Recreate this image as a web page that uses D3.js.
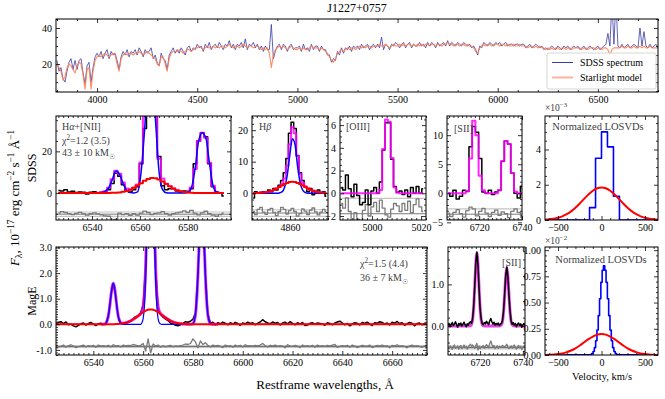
<!DOCTYPE html>
<html><head><meta charset="utf-8">
<script src="https://cdn.jsdelivr.net/npm/d3@7"></script>
<style>
body{margin:0;background:#fff;}
text{font-family:"Liberation Serif","DejaVu Serif",serif;}
</style></head><body>
<script>
// ---------- top: full spectrum (10 A grid from 3800) ----------
var topStart = 3800, topStep = 10;
var starlight = [
19.5,18,16,11,13,18,20,19,17,15, 19,21,20,14,6,17,18,6,16,22,
24,25,24,25,26,25,24,25,26,25, 20,16,23,25,26,25,26,26,25,26,
26,27,26,25,26,27,26,25,24,23, 20,19,24,24,20,16,23,26,27,27,
27,28,27,26,27,28,28,27,28,29, 29,30,29,28,29,30,29,29,30,29,
30,29,30,30,29,30,31,30,29,30, 30,29,30,31,30,29,30,30,29,30,
30,29,28,29,28,29,26,18,25,28, 29,30,29,30,29,28,29,30,29,28,
28,29,28,29,28,28,29,30,29,29, 29,28,29,28,27,26,24,22,21,23,
26,27,28,27,28,29,28,29,29,28, 29,30,29,30,29,30,30,29,30,30,
30,31,30,30,31,30,29,30,31,30, 30,31,30,31,30,31,31,30,31,30,
31,30,31,30,31,31,30,31,31,30, 31,31,30,31,31,32,31,31,30,31,
31,30,31,31,30,31,30,30,29,27, 26,29,30,31,30,31,31,30,31,31,
31,30,31,31,30,31,30,30,31,30, 30,31,30,30,30,29,30,30,29,30,
29,30,29,29,28,29,28,29,28,29, 29,28,29,29,28,29,29,28,29,29,
29,29,28,29,29,28,29,29,29,28, 29,29,28,29,29,28,25,28,29,29,
29,29,30,29,29,30,29,29,30,29, 29,30,29,30,29,29,30,29,29,29,29];
var sdss = [
22,16,18,12,10,16,21,23,17,22, 17,22,23,15,9,19,21,10,18,24,
26,24,27,23,26,28,23,27,25,26, 22,17,24,27,25,28,24,27,26,28,
25,29,27,24,28,26,27,29,23,25, 21,19,26,23,22,17,25,27,29,26,
28,26,29,27,25,29,30,27,29,28, 31,29,30,27,31,29,32,28,30,31,
29,32,30,28,31,30,33,29,31,28, 31,30,32,29,34,28,31,30,32,29,
31,28,30,27,30,28,28,42,23,27, 30,31,28,31,30,27,30,31,28,29,
29,30,27,31,28,29,27,31,28,30, 30,27,30,28,28,25,25,21,23,22,
27,25,29,26,29,28,30,27,30,29, 30,28,31,29,30,31,28,30,31,29,
31,29,35,28,31,30,28,31,30,32, 31,29,31,32,29,31,32,29,31,30,
30,32,30,31,29,32,30,32,31,29, 32,30,31,32,30,33,30,32,31,30,
32,31,30,32,31,30,31,29,30,28, 25,30,29,32,31,30,32,31,30,32,
31,32,30,31,32,30,31,31,30,31, 31,30,31,31,29,30,31,29,30,31,
30,29,30,28,29,28,29,30,29,28, 30,29,28,30,29,30,28,29,30,29,
30,28,29,30,28,29,30,29,28,29, 30,28,29,30,31,37,30,55,31,56,
30,29,31,29,30,31,29,30,31,30, 29,40,30,38,30,29,31,29,30,31,29];
var topXTicks = ["4000","4500","5000","5500","6000","6500"];
var topYTicks = ["20","40"];

// ---------- SDSS Halpha+[NII] (grid 6526 + 1.5 i) ----------
var m1Start = 6526, m1Step = 1.5;
var m1Data = [1.2,1.0,1.5,0.5,0.8,0.2,0.5,0.3,-0.5,0.4,0.6,0.0,0.3,0.5,1.5,4.5,9.5,8.0,4.0,1.0,
  0.5,1.5,3.0,14,31,60,70,45,17.5,3.5,1.5,2.0,2.0,1.0,0.5,1.0,0.8,2.0,14,25,29,27,14,3.0,0.5,0.0,-1.5];
var m1Total = [0,0,0,0,0,0,0,0,0,0,0,0.05,0.2,0.81,2.52,6.56,10.63,9.27,5.03,2.16,1.8,2.5,4.1,14.7,36.9,64.7,
  67.2,42.1,16.5,7.0,4.4,3.2,2.2,1.36,0.8,0.43,0.42,2.6,11.54,25,29,26.5,14.5,3.5,0.5,0,0];
var m1Narrow = [0,0,0,0,0,0,0,0,0,0,0,0.05,0.2,0.8,2.5,6.5,10.5,9,4.5,1.2,0.2,0,0.5,10,31,58,60,35,10,1.5,0.1,
  0,0,0,0,0,0.2,2.5,11.5,25,29,26.5,14.5,3.5,0.5,0,0];
var m1Broad = [0,0,0,0,0,0,0,0,0,0,0,0,0,0.01,0.02,0.06,0.13,0.27,0.53,0.96,1.6,2.5,3.6,4.7,5.9,6.7,7.2,7.1,6.5,
  5.5,4.3,3.2,2.2,1.36,0.8,0.43,0.22,0.1,0.04,0,0,0,0,0,0,0,0];
var m1Resid = [0.5,1.2,0.8,0.3,-0.2,0.4,0.9,0.3,-0.5,0.2,0.6,0.1,-0.3,-0.8,-1.0,-3.0,-2.5,0.5,-0.2,0.3,
  -0.6,0.2,-0.5,0.5,1.5,0.8,-0.2,0.4,0.6,1.2,0.3,-0.4,0.2,0.6,1.0,1.6,0.9,1.8,0.5,-0.3,0.6,1.4,0.2,-0.5,-1.0,-0.2,0.5];

// ---------- SDSS Hbeta (grid 4844.5 + 1.1 i) ----------
var m2Start = 4844.5, m2Step = 1.1;
var m2Data = [-1.5,0.5,0,0.3,0.5,0,1.0,0.5,1.5,1.0,2.5,4.0,6.5,11,19,22.5,20.5,12,6.5,4.0,2.0,0.5,1.5,-0.5,0.5,1.0,0,0.5,-1.0];
var m2Narrow = [0,0,0,0,0,0,0,0,0,0,0.1,0.4,1.8,5.5,12,17.3,15.5,8.5,3.2,0.9,0.2,0,0,0,0,0,0,0,0];
var m2Broad = [0.015,0.03,0.06,0.11,0.19,0.32,0.50,0.76,1.10,1.50,1.97,2.43,2.89,3.28,3.52,3.6,3.52,3.28,2.89,
  2.43,1.97,1.50,1.10,0.76,0.50,0.32,0.19,0.11,0.06];
var m2Total = [0.02,0.03,0.06,0.11,0.19,0.32,0.5,0.76,1.1,1.5,2.07,2.83,4.69,8.78,15.5,20.9,19.0,11.8,6.1,3.3,
  2.2,1.5,1.1,0.76,0.5,0.32,0.19,0.11,0.06];
var m2Resid = [0.5,-0.5,1.2,1.8,0.3,-0.4,1.0,1.5,0.2,-0.8,0.5,1.8,1.2,-0.3,0.8,1.5,0.5,-1.0,-0.2,1.3,0.6,-0.5,0.9,1.6,0.4,-0.6,0.3,1.2,0.5];

// ---------- SDSS [OIII] (grid 4987.5 + 1.15 i) ----------
var m3Start = 4987.5, m3Step = 1.15;
var m3Data = [0.5,0.3,1.6,0.4,-0.3,0.8,-0.2,-1.0,-0.8,0.3,-1.0,0.2,0.5,0.0,1.0,3.8,6.2,6.2,3.0,0.6,0.1,0.2,-0.1,0.3,-0.3,0.5,0.0,0.6,0.0,0.4];
var m3Total = [0,0,0,0,0,0,0,0,0,0,0,0,0,0,0.3,3.9,6.5,6.3,3.1,0.5,0.05,0,0,0,0,0,0,0,0,0];
var m3Resid = [0.9,0.5,1.4,0.2,-0.6,0.1,-0.5,-0.9,0.3,0.8,-0.2,0.6,1.0,0.2,1.2,0.5,-0.1,-0.3,0.4,0.9,0.7,0.2,0.9,0.3,1.1,0.1,0.8,1.3,0.6,0.2];

// ---------- SDSS [SII] (grid 6705.5 + 1.5 i) ----------
var m4Start = 6705.5, m4Step = 1.5;
var m4Data = [0,-0.5,0.5,-1.0,-0.5,0.5,0.3,8,11.5,10.5,6,0.2,0,0.5,-0.2,0.2,0.5,5.5,9,8.5,3.5,0,-0.8,1.2];
var m4Total = [0,0,0,0,0,0,0.4,6,12.5,10,3,0.5,0,0,0,0,0.5,5.5,9,8.5,3.5,0.3,0,0];
var m4Resid = [0.2,-0.4,0.3,0.8,0.1,-0.5,0.6,1.2,0.9,-0.3,0.5,1.0,0.2,-0.4,0.3,0.7,-0.2,0.4,0.1,-0.6,0.5,0.9,0.3,-0.2];

// ---------- LOSVDs ----------
var sdssLosvdV = [-172,-103,-34,34,103,172,241];
var sdssLosvdP = [0,0.7,3.5,5.0,4.15,1.35,0];              // x 1e-3
var gaussV = [-700,-650,-600,-550,-500,-450,-400,-350,-300,-250,-200,-150,-100,-50,0,
  50,100,150,200,250,300,350,400,450,500,550,600,650,700];
var sdssBroadP = [0.009,0.019,0.038,0.070,0.124,0.21,0.33,0.49,0.70,0.94,1.20,1.45,1.66,1.80,1.85,
  1.80,1.66,1.45,1.20,0.94,0.70,0.49,0.33,0.21,0.124,0.070,0.038,0.019,0.009];
var mageNarrowV = [-135,-120,-105,-90,-75,-60,-45,-30,-15,0,15,30,45,60,75,90,105,120,135,150,165,180,195];
var mageNarrowP = [0.0018,0.0052,0.0137,0.033,0.070,0.136,0.238,0.376,0.537,0.693,0.808,0.85,0.808,0.693,
  0.537,0.376,0.238,0.136,0.070,0.033,0.0137,0.0052,0.0018];  // x 1e-2
var mageBroadP = [0.0004,0.001,0.0021,0.0044,0.0085,0.0155,0.027,0.043,0.064,0.091,0.121,0.151,0.176,0.194,0.200,
  0.194,0.176,0.151,0.121,0.091,0.064,0.043,0.027,0.0155,0.0085,0.0044,0.0021,0.001,0.0004];

// ---------- MagE Halpha+[NII] (data 1 A grid from 6525, model 0.5 A grid from 6543) ----------
var b1Start = 6525, b1Step = 1;
var b1Data = [0.02,0.08,0.10,0.03,0.09,-0.02,0.01,-0.06,-0.10,-0.04,0.02,0.05,-0.03,0.03,0.07,0.01,-0.05,0.02,0.04,-0.01,
  0.03,0.35,1.08,1.58,1.10,0.30,0.05,0.02,0.04,0.08,0.12,0.22,0.30,0.33,0.45,0.75,2.30,6.40,9.70,6.60,
  2.20,0.62,0.38,0.28,0.20,0.14,0.05,0.02,-0.04,-0.06,-0.02,0.04,0.10,0.08,0.12,0.20,0.45,2.00,4.30,4.35,
  1.95,0.40,0.05,0.08,-0.03,0.06,0.02,0.08,0.04,-0.02,0.06,0.01,0.07,0.03,-0.04,0.05,0.02,0.08,0.03,0.06,
  -0.02,0.04,0.09,0.18,0.10,0.05,0.02,0.09,0.04,0.07,-0.03,0.05,0.08,0.02,0.10,0.04,-0.02,0.06,0.01,0.07,
  -0.05,-0.03,0.04,0.06,0.00,0.05,0.03,0.01,-0.04,0.06,0.03,-0.02,0.05,0.09,0.12,0.05,-0.02,0.03,-0.06,0.01,
  0.06,0.04,-0.03,0.07,0.03,0.08,0.02,-0.05,0.06,0.04,0.10,0.07,0.01,0.05,-0.03,0.08,0.04,0.11,0.03,0.06,
  -0.04,0.02,0.07,0.04,-0.06,0.03,0.05,-0.02,0.04,0.01,0.03];
var b1Resid = [0.03,-0.02,0.02,0.06,-0.03,0.04,0.07,0.02,-0.04,0.00,0.03,0.06,-0.02,0.04,0.01,0.05,-0.03,0.06,0.02,0.04,
  0.01,0.05,-0.02,0.07,0.03,0.04,-0.02,0.06,0.03,0.05, 0.04,0.08,0.06,0.03,0.05,0.12,-0.18,0.30,-0.25,0.10,
  0.02,0.06,-0.03,0.04,-0.02,0.03,0.05,-0.01,0.03,0.02, 0.04,0.06,0.10,0.08,0.12,0.30,0.18,-0.05,0.22,0.08,
  0.15,0.05,-0.02,0.06,0.03,0.05,0.01,-0.04,0.06,0.02, 0.04,-0.03,0.06,0.01,0.05,-0.02,0.07,0.03,0.04,0.02,
  0.05,0.03,0.06,0.12,0.04,-0.02,0.05,0.03,0.06,0.01, 0.04,0.02,-0.05,0.07,0.03,0.01,0.05,0.02,-0.04,0.06,
  0.02,0.04,0.01,0.05,-0.03,0.06,0.02,0.04,0.01,0.05, 0.03,0.06,0.08,-0.03,0.01,0.04,0.02,0.05,-0.03,0.06,
  0.02,-0.04,0.01,0.05,0.03,0.02,0.06,-0.04,0.01,0.05, 0.03,0.06,0.02,0.04,-0.05,0.05,0.03,0.07,0.02,0.04,
  0.01,-0.05,0.03,0.06,0.02,0.04,0.01,-0.03,0.03,0.02,0.04];
var b1ModStart = 6543, b1ModStep = 0.5;
var b1Narrow = [0,0,0,0,0.04,0.12,0.31,0.63,1.06,1.44,1.6,1.44,1.06,0.63,0.31,0.12,0.04,0.01,
  0,0,0,0,0,0,0,0,0,0,0,0,0,0,0,
  0.06,0.22,0.68,1.72,3.56,5.96,8.1,9,8.1,5.96,3.56,1.72,0.68,0.22,0.06,0.01,
  0,0,0,0,0,0,0,0,0,0,0,0,0,0,0,0,0,0,0,0,0,0,0,0,0,
  0.03,0.12,0.36,0.92,1.9,3.18,4.33,4.8,4.33,3.18,1.9,0.92,0.36,0.12,0.03,
  0,0,0,0,0,0];
var b1Broad = [0,0,0,0,0,0,0,0,0,0,
  0.0036,0.005,0.0069,0.009,0.012,0.017,0.022,0.028,0.037,0.047,0.060,0.075,0.093,0.114,0.137,0.164,0.193,0.225,
  0.258,0.294,0.330,0.368,0.404,0.439,0.472,0.503,0.529,0.551,0.567,0.577,0.58,0.577,0.567,0.551,0.529,0.503,
  0.472,0.439,0.404,0.368,0.330,0.294,0.258,0.225,0.193,0.164,0.137,0.114,0.093,0.075,0.060,0.047,0.037,0.028,
  0.022,0.017,0.012,0.009,0.0069,0.005,0.0036,
  0,0,0,0,0,0,0,0,0,0,0,0,0,0,0,0,0,0,0,0,0,0,0,0];
var b1Total = [0,0,0,0,0.04,0.12,0.31,0.63,1.06,1.44,1.604,1.445,1.067,0.639,0.322,0.137,0.062,0.038,0.037,0.047,
  0.06,0.075,0.093,0.114,0.137,0.164,0.193,0.225,0.258,0.294,0.33,0.368,0.404,0.499,0.692,1.183,2.249,4.111,6.527,8.677,
  9.58,8.677,6.527,4.111,2.249,1.183,0.692,0.499,0.414,0.368,0.33,0.294,0.258,0.225,0.193,0.164,0.137,0.114,0.093,0.075,
  0.06,0.047,0.037,0.028,0.022,0.017,0.012,0.009,0.007,0.005,0.004,0,0,0,0.03,0.12,0.36,0.92,1.9,3.18,
  4.33,4.8,4.33,3.18,1.9,0.92,0.36,0.12,0.03,0,0,0,0,0,0];

// ---------- MagE [SII] (grid 6705 + 0.5 i) ----------
var b2Start = 6705, b2Step = 0.5;
var b2Data = [0.02,0.06,-0.02,0.04,0.08,0.01,0.05,0.10,0.03,-0.03,0.06,0.02,0.07,0.00,0.04,0.09,0.03,-0.02,0.05,0.02,
  0.08,0.10,0.06,0.18,0.47,0.95,1.52,1.78,1.48,0.92,0.42,0.17,0.06,0.03,0.08,0.05,0.11,0.07,0.03,0.12,
  0.18,0.10,0.04,0.09,0.02,0.06,0.03,0.07,0.01,0.05,0.06,0.14,0.38,0.78,1.22,1.42,1.18,0.74,0.36,0.12,
  0.04,0.08,0.02,0.06,-0.02,0.04,0.07,0.01,0.05,-0.03,0.03,0.06,0.02];
var b2Total = [0,0,0,0,0,0,0,0,0,0,0,0,0,0,0,0,0,0,0,0,0,0.007,0.037,0.15,0.44,0.94,1.50,1.75,1.50,0.94,
  0.44,0.15,0.037,0.007,0,0,0,0,0,0,0,0,0,0,0,0,0,0,0,0.005,0.03,0.12,0.35,0.75,1.2,1.4,1.2,0.75,0.35,0.12,
  0.03,0.005,0,0,0,0,0,0,0,0,0,0,0];
var b2Resid = [0.02,-0.03,0.04,0.01,-0.05,0.03,0.06,-0.02,0.00,0.04,-0.04,0.02,0.05,-0.03,0.01,0.06,-0.01,0.03,-0.04,0.02,
  0.05,0.08,0.03,0.06,0.02,-0.02,0.05,0.10,-0.06,0.04,-0.03,0.02,0.01,0.05,-0.02,0.03,0.07,0.04,-0.01,0.09,
  0.16,0.08,0.02,0.05,-0.03,0.01,0.04,-0.02,0.03,0.00,0.02,0.05,0.03,0.01,0.04,0.08,0.02,-0.03,0.01,0.04,
  -0.02,0.03,0.06,0.00,-0.04,0.02,0.05,-0.01,0.03,-0.05,0.01,0.04,0.02];

// ---------- drawing ----------
var svg = d3.select("body").append("svg").attr("width", 665).attr("height", 399);
var num = function(s) { return +String(s).replace("\u2212", "-"); };
var grid = function(start, step, n) { return d3.range(n).map(function(i) { return start + i * step; }); };
var clipN = 0;

function minors(dom, step, majors) {
  var out = [];
  for (var k = Math.ceil(dom[0] / step - 1e-6); k * step <= dom[1] + 1e-6; k++) {
    var v = +(k * step).toFixed(6);
    if (!majors.some(function(m) { return Math.abs(m - v) < step / 10; })) out.push(v);
  }
  return out;
}

function panel(o) {
  var x = d3.scaleLinear().domain(o.xd).range([o.l, o.r]);
  var y = d3.scaleLinear().domain(o.yd).range([o.b, o.t]);
  var id = "clip" + (clipN++);
  svg.append("clipPath").attr("id", id).append("rect")
    .attr("x", o.l).attr("y", o.t).attr("width", o.r - o.l).attr("height", o.b - o.t);
  var g = svg.append("g").attr("clip-path", "url(#" + id + ")");
  var xt = o.xl.map(num), yt = o.yl.map(num);
  var mx = minors(o.xd, o.xm, xt), my = minors(o.yd, o.ym, yt);
  var ax = svg.append("g");
  function add(axis, tr) {
    ax.append("g").attr("transform", tr).call(axis).call(function(s) { s.select(".domain").remove(); });
  }
  add(d3.axisBottom(x).tickValues(xt).tickSize(-4).tickPadding(4).tickFormat(function(d, i) { return o.xl[i]; }), "translate(0," + o.b + ")");
  add(d3.axisBottom(x).tickValues(mx).tickSize(-2).tickFormat(""), "translate(0," + o.b + ")");
  add(d3.axisTop(x).tickValues(xt).tickSize(-4).tickFormat(""), "translate(0," + o.t + ")");
  add(d3.axisTop(x).tickValues(mx).tickSize(-2).tickFormat(""), "translate(0," + o.t + ")");
  add(d3.axisLeft(y).tickValues(yt).tickSize(-4).tickPadding(4).tickFormat(function(d, i) { return o.yl[i]; }), "translate(" + o.l + ",0)");
  add(d3.axisLeft(y).tickValues(my).tickSize(-2).tickFormat(""), "translate(" + o.l + ",0)");
  add(d3.axisRight(y).tickValues(yt).tickSize(-4).tickFormat(""), "translate(" + o.r + ",0)");
  add(d3.axisRight(y).tickValues(my).tickSize(-2).tickFormat(""), "translate(" + o.r + ",0)");
  ax.selectAll("line").attr("stroke", "#000").attr("stroke-width", 0.8);
  ax.selectAll("text").attr("font-family", "Liberation Serif, DejaVu Serif, serif").attr("font-size", 10).attr("fill", "#000");
  ax.selectAll("g").attr("font-family", null).attr("font-size", null);
  svg.append("rect").attr("x", o.l).attr("y", o.t).attr("width", o.r - o.l).attr("height", o.b - o.t)
    .attr("fill", "none").attr("stroke", "#000").attr("stroke-width", 1);
  return { x: x, y: y, g: g };
}

function draw(p, xs, ys, c, w, curve, op) {
  var line = d3.line().x(function(d, i) { return p.x(xs[i]); }).y(function(d) { return p.y(d); })
    .curve(curve || d3.curveLinear);
  p.g.append("path").datum(ys).attr("d", line).attr("fill", "none").attr("stroke", c)
    .attr("stroke-width", w).attr("stroke-opacity", op == null ? 1 : op).attr("stroke-linejoin", "round");
}
// extend a model series to the panel edges at zero level
function drawEdge(p, xs, ys, c, w, curve, op) {
  var d = p.x.domain();
  draw(p, [d[0]].concat(xs, [d[1]]), [0].concat(ys, [0]), c, w, curve, op);
}
function residBand(p, xs, r, off, err, filled) {
  var d = p.x.domain();
  if (filled) {
    p.g.append("rect").attr("x", p.x(d[0])).attr("width", p.x(d[1]) - p.x(d[0]))
      .attr("y", p.y(off + err)).attr("height", p.y(off - err) - p.y(off + err)).attr("fill", "#c8c8c8");
  } else {
    draw(p, d, [off + err, off + err], "#c4c4c4", 1.2);
    draw(p, d, [off - err, off - err], "#c4c4c4", 1.2);
  }
  draw(p, d, [off, off], "#555", 0.8);
  draw(p, xs, r.map(function(v) { return off + v; }), "#7a7a7a", 1.3, filled ? d3.curveLinear : d3.curveStep);
}

function rich(t, parts, fs) {
  var shift = 0;
  parts.forEach(function(pt) {
    var k = pt[1], target = k === "sup" ? -0.4 * fs : k === "sub" ? 0.25 * fs : 0;
    var ts = t.append("tspan").attr("dy", target - shift).text(pt[0]);
    if (k === "sup" || k === "sub") ts.attr("font-size", fs * 0.72);
    if (k === "i") ts.attr("font-style", "italic");
    shift = target;
  });
  return t;
}
function label(x, y, parts, fs, anchor, color, rot) {
  var t = svg.append("text").attr("font-size", fs).attr("fill", color || "#000")
    .attr("text-anchor", anchor || "start")
    .attr("transform", "translate(" + x + "," + y + ")" + (rot ? " rotate(" + rot + ")" : ""));
  return rich(t, parts, fs);
}

var BLACK = "#000", MAG = "#ff00ff", BLUE = "#0000ff", RED = "#ff0000";
var ANN = "#404040";

// top panel
var pt = panel({ l: 56, r: 658, t: 19, b: 92, xd: [3795, 6800], yd: [4.5, 45],
  xl: topXTicks, yl: topYTicks, xm: 100, ym: 5 });
var topX = grid(topStart, topStep, sdss.length);
draw(pt, topX, sdss, "#3a3aa8", 0.8);
draw(pt, topX, starlight, "#ff7f50", 1.1, null, 0.9);
label(357, 12, [["J1227+0757"]], 12, "middle");
svg.append("rect").attr("x", 547).attr("y", 53).attr("width", 109).attr("height", 36).attr("rx", 2)
  .attr("fill", "#fff").attr("fill-opacity", 0.85).attr("stroke", "#ccc").attr("stroke-width", 0.8);
svg.append("line").attr("x1", 552).attr("x2", 573).attr("y1", 62.5).attr("y2", 62.5).attr("stroke", "#3a3aa8").attr("stroke-width", 1);
svg.append("line").attr("x1", 552).attr("x2", 573).attr("y1", 77.5).attr("y2", 77.5).attr("stroke", "#ff7f50").attr("stroke-opacity", 0.6).attr("stroke-width", 2);
label(580, 66, [["SDSS spectrum"]], 10);
label(580, 81, [["Starlight model"]], 10);

// middle row (SDSS)
var mT = 116, mB = 220;
var p1 = panel({ l: 56, r: 231, t: mT, b: mB, xd: [6525, 6598], yd: [-13, 37],
  xl: ["6540", "6560", "6580"], yl: ["0", "20"], xm: 2, ym: 5 });
var x1 = grid(m1Start, m1Step, m1Data.length);
residBand(p1, x1, m1Resid, -10.2, 1.05, false);
draw(p1, x1, m1Data, BLACK, 1.5, d3.curveStep);
draw(p1, x1, m1Total, MAG, 2, d3.curveStep, 0.85);
draw(p1, x1, m1Narrow, BLUE, 1.5, d3.curveMonotoneX);
draw(p1, x1, m1Broad, RED, 2, d3.curveStep);
label(62, 130, [["H"], ["\u03b1", "i"], ["+[NII]"]], 10, "start", ANN);
label(62, 144, [["\u03c7"], ["2", "sup"], ["=1.2 (3.5)"]], 10, "start", ANN);
label(62, 156, [["43 \u00b1 10 kM"], ["\u2609", "sub"]], 10, "start", ANN);

var p2 = panel({ l: 252, r: 328, t: mT, b: mB, xd: [4844, 4876], yd: [-8.5, 24.5],
  xl: ["4860"], yl: ["0", "10", "20"], xm: 2, ym: 2 });
var x2 = grid(m2Start, m2Step, m2Data.length);
residBand(p2, x2, m2Resid, -6.3, 1.05, false);
draw(p2, x2, m2Data, BLACK, 1.5, d3.curveStep);
draw(p2, x2, m2Total, MAG, 2, d3.curveStep, 0.85);
draw(p2, x2, m2Narrow, BLUE, 1.5, d3.curveMonotoneX);
draw(p2, x2, m2Broad, RED, 2, d3.curveStep);
label(259, 130, [["H"], ["\u03b2", "i"]], 10, "start", ANN);

var p3 = panel({ l: 340, r: 426, t: mT, b: mB, xd: [4987, 5022], yd: [-2.35, 6.8],
  xl: ["5000", "5020"], yl: ["\u22122", "0", "2", "4", "6"], xm: 2, ym: 0.5 });
var x3 = grid(m3Start, m3Step, m3Data.length);
residBand(p3, x3, m3Resid, -1.8, 1.35, false);
draw(p3, x3, m3Data, BLACK, 1.5, d3.curveStep);
draw(p3, x3, m3Total, MAG, 2, d3.curveStep, 0.85);
label(346, 130, [["[OIII]"]], 10, "start", ANN);

var p4 = panel({ l: 447, r: 522, t: mT, b: mB, xd: [6705, 6740], yd: [-4.6, 13.3],
  xl: ["6720", "6740"], yl: ["\u22125", "0", "5", "10"], xm: 2, ym: 1 });
var x4 = grid(m4Start, m4Step, m4Data.length);
residBand(p4, x4, m4Resid, -3.6, 0.9, false);
draw(p4, x4, m4Data, BLACK, 1.5, d3.curveStep);
draw(p4, x4, m4Total, MAG, 2, d3.curveStep, 0.85);
label(454, 132, [["[SII]"]], 10, "start", ANN);

var p5 = panel({ l: 545, r: 658, t: mT, b: mB, xd: [-650, 650], yd: [0, 5.9],
  xl: ["\u2212500", "0", "500"], yl: ["0", "2", "4"], xm: 100, ym: 0.5 });
drawEdge(p5, sdssLosvdV, sdssLosvdP, BLUE, 1.6, d3.curveStep);
draw(p5, gaussV, sdssBroadP, RED, 2, d3.curveMonotoneX);
label(598, 130, [["Normalized LOSVDs"]], 10.5, "middle", ANN);
label(545, 111, [["\u00d710"], ["\u22123", "sup"]], 9.5, "start", ANN);

// bottom row (MagE)
var bT = 247, bB = 355;
var q1 = panel({ l: 56, r: 427, t: bT, b: bB, xd: [6525, 6674], yd: [-1.2, 3.02],
  xl: ["6540", "6560", "6580", "6600", "6620", "6640", "6660"], yl: ["-1.0", "0.0", "1.0", "2.0", "3.0"], xm: 2, ym: 0.1 });
var xb = grid(b1Start, b1Step, b1Data.length), xm1 = grid(b1ModStart, b1ModStep, b1Total.length);
residBand(q1, xb, b1Resid, -0.87, 0.06, true);
draw(q1, xb, b1Data, BLACK, 1.5);
draw(q1, xm1, b1Total, "#dd00ee", 3, d3.curveMonotoneX, 0.8);
drawEdge(q1, xm1, b1Narrow, BLUE, 1.2, d3.curveMonotoneX);
drawEdge(q1, xm1, b1Broad, RED, 2, d3.curveMonotoneX);
label(360, 267, [["\u03c7"], ["2", "sup"], ["=1.5 (4.4)"]], 10, "start", ANN);
label(360, 281, [["36 \u00b1 7 kM"], ["\u2609", "sub"]], 10, "start", ANN);

var q2 = panel({ l: 448, r: 525, t: bT, b: bB, xd: [6705, 6741], yd: [-0.7, 1.9],
  xl: ["6720", "6740"], yl: ["0.0", "1.0"], xm: 2, ym: 0.2 });
var x2b = grid(b2Start, b2Step, b2Data.length);
residBand(q2, x2b, b2Resid, -0.52, 0.05, true);
draw(q2, x2b, b2Total, "#dd00dd", 3, d3.curveMonotoneX, 0.75);
draw(q2, x2b, b2Data, BLACK, 1.5);
label(521, 266, [["[SII]"]], 10, "end", ANN);

var q3 = panel({ l: 545, r: 658, t: bT, b: bB, xd: [-650, 650], yd: [0, 1.03],
  xl: ["\u2212500", "0", "500"], yl: ["0.00", "0.25", "0.50", "0.75", "1.00"], xm: 100, ym: 0.05 });
drawEdge(q3, mageNarrowV, mageNarrowP, BLUE, 1.6, d3.curveStep);
draw(q3, gaussV, mageBroadP, RED, 2, d3.curveMonotoneX);
label(601, 263, [["Normalized LOSVDs"]], 10.5, "middle", ANN);
label(545, 244, [["\u00d710"], ["\u22122", "sup"]], 9.5, "start", ANN);

// shared labels
label(19, 198, [["F", "i"], ["\u03bb", "sub"], [", 10"], ["\u221217", "sup"], [" erg cm"], ["\u22122", "sup"],
  [" s"], ["\u22121", "sup"], [" \u00c5"], ["\u22121", "sup"]], 13, "middle", "#000", -90);
label(36, 168, [["SDSS"]], 12, "middle", "#000", -90);
label(36, 301, [["MagE"]], 12, "middle", "#000", -90);
label(325, 389, [["Restframe wavelengths, \u00c5"]], 13, "middle");
label(602, 380, [["Velocity, km/s"]], 10.5, "middle");
</script></body></html>
